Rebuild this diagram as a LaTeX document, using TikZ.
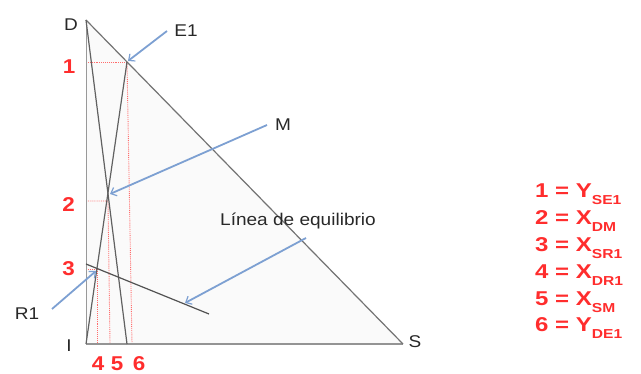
\documentclass[tikz,border=0pt]{standalone}
\usepackage{fontspec}
\setmainfont{Liberation Sans}
\usetikzlibrary{arrows.meta}
\definecolor{lblue}{RGB}{125,160,210}
\definecolor{lred}{RGB}{255,45,45}
\definecolor{dgray}{RGB}{40,40,40}
\newcommand{\hs}[2][1.12]{\scalebox{#1}[1]{#2}}
\newcommand{\legsub}[1]{\raisebox{-0.35em}{\fontsize{13}{13}\selectfont #1}}
\begin{document}
\begin{tikzpicture}[x=1pt,y=-1pt,
  lbl/.style={text=dgray,font=\fontsize{17}{17}\selectfont,inner sep=0pt},
  rlbl/.style={text=lred,font=\bfseries\fontsize{20}{20}\selectfont,inner sep=0pt},
  leg/.style={rlbl,anchor=base west},
  edge/.style={draw=black!62,line width=1.2pt},
  guide/.style={draw=lred!70,line width=0.9pt,densely dotted},
  pointer/.style={draw=lblue,line width=1.8pt,-{Straight Barb[length=5pt,width=9pt,line width=1.2pt]}}]
\useasboundingbox (0,0) rectangle (641,374);
% points
\coordinate (D) at (86,20);
\coordinate (I) at (86,344);
\coordinate (S) at (403,344);
\coordinate (E1) at (127,62);
\coordinate (B) at (127,344);
\coordinate (M) at (108,194);
\coordinate (R1) at (97,269);
\coordinate (Q) at (86,264);
\coordinate (Qe) at (209,314);
\coordinate (a1) at (86,62);
\coordinate (b6) at (132,344);
\coordinate (a2) at (86,201);
\coordinate (m2) at (108,201);
\coordinate (b5) at (110,344);
\coordinate (a3) at (86,269);
\coordinate (b4) at (97,344);
% triangle fill
\fill[black!2] (D) -- (S) -- (I) -- cycle;
% red guides
\draw[guide] (a1) -- (E1);
\draw[guide] (E1) -- (b6);
\draw[guide] (a2) -- (m2) -- (b5);
\draw[guide] (a3) -- (R1) -- (b4);
% black lines
\draw[draw=black!40,line width=1pt] (D) -- (I);
\draw[draw=black!42,line width=2pt] (I) -- (S);
\draw[edge,draw=black!55] (D) -- (S);
\draw[edge] (D) -- (B);
\draw[edge] (E1) -- (I);
\draw[edge,draw=black!68] (Q) -- (Qe);
% arrows
\coordinate (tE) at (167,31);
\coordinate (tM) at (267,125);
\coordinate (tQ) at (306,238);
\coordinate (tR) at (52,309);
\coordinate (hM) at (110,194);
\coordinate (hQ) at (185,303);
\coordinate (hR) at (96,271);
\coordinate (hE) at (128,61);
\draw[pointer] (tE) -- (hE);
\draw[pointer] (tM) -- (hM);
\draw[pointer] (tQ) -- (hQ);
\draw[pointer] (tR) -- (hR);
% black labels
\node[lbl] (lD) at (71,25) {\hs{D}};
\node[lbl] (lI) at (69,346) {\hs{I}};
\node[lbl] (lS) at (415,342) {\hs{S}};
\node[lbl] (lE) at (186,31) {\hs{E1}};
\node[lbl] (lM) at (283,125) {\hs{M}};
\node[lbl] (lR) at (27,314) {\hs{R1}};
\node[lbl] (lQ) at (298,221) {\hs{Línea de equilibrio}};
% red labels
\node[rlbl] (n1) at (69,66.5) {\hs{1}};
\node[rlbl] (n2) at (68.5,205) {\hs{2}};
\node[rlbl] (n3) at (68.5,268.5) {\hs{3}};
\node[rlbl] (n4) at (98,364) {\hs{4}};
\node[rlbl] (n5) at (117,364) {\hs{5}};
\node[rlbl] (n6) at (139,364) {\hs{6}};
% legend
\node[leg] (g1) at (535,198) {\hs[1.2]{1 = Y\legsub{SE1}}};
\node[leg] (g2) at (535,224.8) {\hs[1.2]{2 = X\legsub{DM}}};
\node[leg] (g3) at (535,251.6) {\hs[1.2]{3 = X\legsub{SR1}}};
\node[leg] (g4) at (535,278.4) {\hs[1.2]{4 = X\legsub{DR1}}};
\node[leg] (g5) at (535,305.2) {\hs[1.2]{5 = X\legsub{SM}}};
\node[leg] (g6) at (535,332) {\hs[1.2]{6 = Y\legsub{DE1}}};
\end{tikzpicture}
\end{document}
